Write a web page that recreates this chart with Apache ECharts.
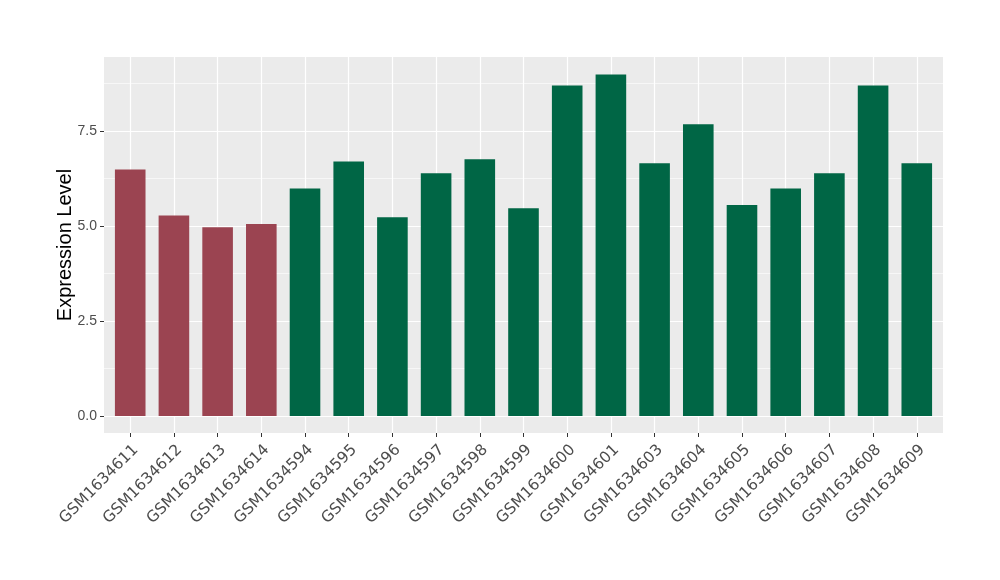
<!DOCTYPE html>
<html>
<head>
<meta charset="utf-8">
<script src="https://cdn.jsdelivr.net/npm/echarts@6/dist/echarts.min.js"></script>
<style>html,body{margin:0;padding:0;background:#fff;}#c{width:1000px;height:580px;}</style>
</head>
<body>
<div id="c"></div>
<script>
var categories = ['GSM1634611','GSM1634612','GSM1634613','GSM1634614','GSM1634594','GSM1634595','GSM1634596','GSM1634597','GSM1634598','GSM1634599','GSM1634600','GSM1634601','GSM1634603','GSM1634604','GSM1634605','GSM1634606','GSM1634607','GSM1634608','GSM1634609'];
var values = [6.49,5.28,4.97,5.05,5.99,6.70,5.23,6.39,6.76,5.47,8.70,8.99,6.65,7.68,5.55,5.99,6.39,8.70,6.65];
var groups = ['A','A','A','A','B','B','B','B','B','B','B','B','B','B','B','B','B','B','B'];
var groupColors = {A:'#9B4451', B:'#006645'};
var yTicks = [0, 2.5, 5, 7.5];
var yMinorTicks = [1.25, 3.75, 6.25, 8.75];

var positions = categories.map(function(_, i){ return i; });
var barData = values.map(function(v, i){
  return { value: [i, v], itemStyle: { color: groupColors[groups[i]] } };
});

var chart = echarts.init(document.getElementById('c'), null, {renderer:'canvas'});
chart.setOption({
  animation: false,
  backgroundColor: '#ffffff',
  grid: { left: 104, right: 57, top: 57, bottom: 147, show: true, backgroundColor: '#EBEBEB', borderWidth: 0 },
  xAxis: {
    type: 'value', min: -0.6, max: categories.length - 0.4, position: 'bottom',
    axisLine: { show: false, onZero: false },
    axisTick: { show: true, customValues: positions, length: 4, lineStyle: { color: '#333333', width: 1 } },
    axisLabel: {
      customValues: positions, rotate: 45, margin: 20, padding: [0, -8, 0, 0],
      fontFamily: 'DejaVu Sans', fontSize: 15.5, color: '#4D4D4D',
      formatter: function(v){ return categories[Math.round(v)]; }
    },
    splitLine: { show: true, lineStyle: { color: '#FFFFFF', width: 1.2 } }
  },
  yAxis: [{
    type: 'value', min: -0.45, max: 9.45, position: 'left',
    name: 'Expression Level', nameLocation: 'middle', nameGap: 29, nameMoveOverlap: false,
    nameTextStyle: { fontFamily: 'Liberation Sans', fontSize: 20, color: '#000000' },
    axisLine: { show: false, onZero: false },
    axisTick: { show: true, customValues: yTicks, length: 4, lineStyle: { color: '#333333', width: 1 } },
    axisLabel: { customValues: yTicks, margin: 7, fontFamily: 'Liberation Sans', fontSize: 14, color: '#4D4D4D',
      formatter: function(v){ return v.toFixed(1); } },
    splitLine: { show: true, lineStyle: { color: '#FFFFFF', width: 1.2 } }
  }, {
    type: 'value', min: -0.45, max: 9.45, position: 'left',
    axisLine: { show: false, onZero: false },
    axisTick: { show: false, customValues: yMinorTicks },
    axisLabel: { show: false, customValues: yMinorTicks },
    splitLine: { show: true, lineStyle: { color: '#FFFFFF', width: 0.6 } }
  }],
  series: [{
    type: 'bar', xAxisIndex: 0, yAxisIndex: 0,
    barWidth: 30.6,
    data: barData
  }]
});
</script>
</body>
</html>
